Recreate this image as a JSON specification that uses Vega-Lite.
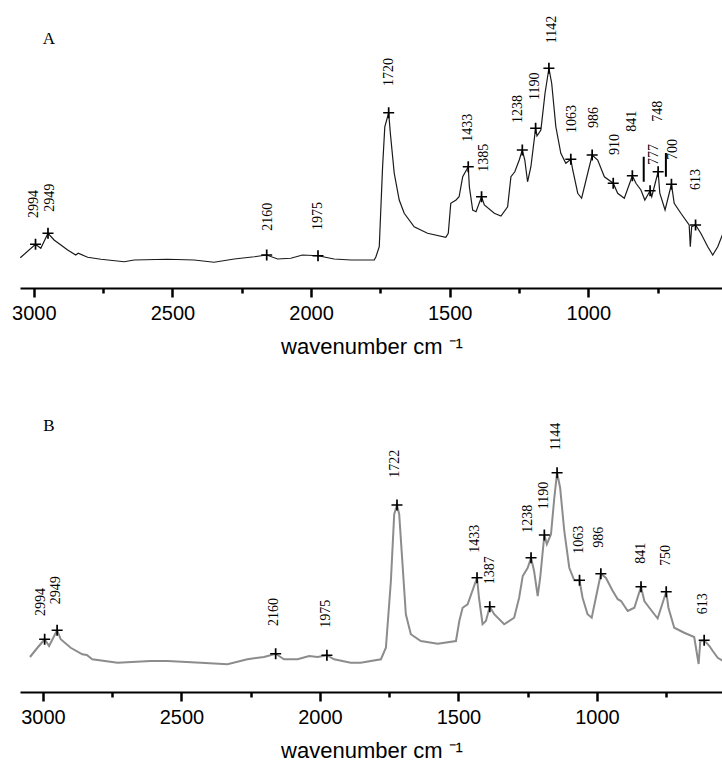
{
  "$schema": "https://vega.github.io/schema/vega-lite/v6.json",
  "padding": {"left": 11, "top": 0, "right": 0, "bottom": 0},
  "background": "white",
  "spacing": 44,
  "config": {
    "view": {"stroke": null},
    "axis": {
      "grid": false,
      "domainColor": "black",
      "domainWidth": 2,
      "tickColor": "black",
      "tickWidth": 2.5,
      "labelFont": "Liberation Sans",
      "labelFontSize": 20,
      "labelColor": "black",
      "labelPadding": 6,
      "titleFont": "Liberation Sans",
      "titleFontSize": 22,
      "titleFontWeight": "normal",
      "titleColor": "black",
      "titlePadding": 13
    }
  },
  "datasets": {
    "specA": [
      {"wn":3049,"v":0.121},{"wn":2994,"v":0.175},{"wn":2975,"v":0.159},{"wn":2949,"v":0.219},{"wn":2927,"v":0.192},{"wn":2878,"v":0.152},{"wn":2849,"v":0.132},{"wn":2840,"v":0.139},{"wn":2806,"v":0.123},{"wn":2758,"v":0.115},{"wn":2674,"v":0.105},{"wn":2638,"v":0.112},{"wn":2518,"v":0.115},{"wn":2422,"v":0.112},{"wn":2350,"v":0.103},{"wn":2277,"v":0.116},{"wn":2205,"v":0.125},{"wn":2160,"v":0.132},{"wn":2121,"v":0.116},{"wn":2073,"v":0.119},{"wn":2031,"v":0.132},{"wn":1975,"v":0.129},{"wn":1917,"v":0.116},{"wn":1856,"v":0.112},{"wn":1772,"v":0.112},{"wn":1766,"v":0.125},{"wn":1754,"v":0.165},{"wn":1742,"v":0.485},{"wn":1734,"v":0.645},{"wn":1720,"v":0.701},{"wn":1714,"v":0.619},{"wn":1700,"v":0.459},{"wn":1682,"v":0.352},{"wn":1664,"v":0.299},{"wn":1628,"v":0.245},{"wn":1580,"v":0.219},{"wn":1514,"v":0.203},{"wn":1505,"v":0.219},{"wn":1496,"v":0.339},{"wn":1477,"v":0.352},{"wn":1466,"v":0.365},{"wn":1453,"v":0.445},{"wn":1433,"v":0.485},{"wn":1429,"v":0.405},{"wn":1417,"v":0.312},{"wn":1405,"v":0.305},{"wn":1385,"v":0.365},{"wn":1375,"v":0.332},{"wn":1339,"v":0.299},{"wn":1315,"v":0.288},{"wn":1291,"v":0.325},{"wn":1279,"v":0.445},{"wn":1265,"v":0.465},{"wn":1249,"v":0.512},{"wn":1238,"v":0.552},{"wn":1229,"v":0.512},{"wn":1219,"v":0.425},{"wn":1207,"v":0.485},{"wn":1190,"v":0.639},{"wn":1185,"v":0.608},{"wn":1171,"v":0.632},{"wn":1156,"v":0.779},{"wn":1142,"v":0.879},{"wn":1132,"v":0.819},{"wn":1117,"v":0.645},{"wn":1099,"v":0.539},{"wn":1081,"v":0.499},{"wn":1063,"v":0.515},{"wn":1056,"v":0.472},{"wn":1038,"v":0.379},{"wn":1024,"v":0.359},{"wn":1008,"v":0.432},{"wn":986,"v":0.532},{"wn":966,"v":0.512},{"wn":942,"v":0.445},{"wn":910,"v":0.419},{"wn":894,"v":0.379},{"wn":870,"v":0.359},{"wn":841,"v":0.449},{"wn":828,"v":0.419},{"wn":810,"v":0.392},{"wn":796,"v":0.352},{"wn":777,"v":0.389},{"wn":771,"v":0.365},{"wn":748,"v":0.465},{"wn":742,"v":0.379},{"wn":723,"v":0.312},{"wn":700,"v":0.415},{"wn":690,"v":0.339},{"wn":666,"v":0.299},{"wn":636,"v":0.252},{"wn":632,"v":0.165},{"wn":627,"v":0.245},{"wn":613,"v":0.252},{"wn":594,"v":0.219},{"wn":569,"v":0.165},{"wn":551,"v":0.132},{"wn":533,"v":0.165},{"wn":514,"v":0.219}
    ],
    "peaksA": [
      {"wn":2994,"v":0.175,"label":"2994","lx":2999,"ly":0.28},
      {"wn":2949,"v":0.219,"label":"2949","lx":2941,"ly":0.305},
      {"wn":2160,"v":0.132,"label":"2160","lx":2157,"ly":0.229},
      {"wn":1975,"v":0.129,"label":"1975","lx":1974,"ly":0.232},
      {"wn":1720,"v":0.701,"label":"1720","lx":1718,"ly":0.808},
      {"wn":1433,"v":0.485,"label":"1433","lx":1433,"ly":0.585},
      {"wn":1385,"v":0.365,"label":"1385","lx":1376,"ly":0.465},
      {"wn":1238,"v":0.552,"label":"1238","lx":1254,"ly":0.66},
      {"wn":1190,"v":0.639,"label":"1190","lx":1191,"ly":0.752},
      {"wn":1142,"v":0.879,"label":"1142","lx":1132,"ly":0.979},
      {"wn":1063,"v":0.515,"label":"1063","lx":1060,"ly":0.62},
      {"wn":986,"v":0.532,"label":"986","lx":980,"ly":0.64},
      {"wn":910,"v":0.419,"label":"910","lx":904,"ly":0.532},
      {"wn":841,"v":0.449,"label":"841","lx":844,"ly":0.625},
      {"wn":777,"v":0.389,"label":"777","lx":764,"ly":0.492},
      {"wn":748,"v":0.465,"label":"748","lx":750,"ly":0.665},
      {"wn":700,"v":0.415,"label":"700","lx":696,"ly":0.512},
      {"wn":613,"v":0.252,"label":"613","lx":612,"ly":0.392}
    ],
    "barsA": [
      {"wn":800,"v1":0.425,"v2":0.525},
      {"wn":720,"v1":0.445,"v2":0.54}
    ],
    "specB": [
      {"wn":3047,"v":0.14},{"wn":3020,"v":0.177},{"wn":2994,"v":0.211},{"wn":2978,"v":0.184},{"wn":2949,"v":0.247},{"wn":2936,"v":0.211},{"wn":2900,"v":0.177},{"wn":2858,"v":0.151},{"wn":2842,"v":0.148},{"wn":2822,"v":0.131},{"wn":2731,"v":0.117},{"wn":2611,"v":0.124},{"wn":2551,"v":0.124},{"wn":2430,"v":0.117},{"wn":2334,"v":0.111},{"wn":2262,"v":0.131},{"wn":2202,"v":0.14},{"wn":2160,"v":0.153},{"wn":2130,"v":0.131},{"wn":2081,"v":0.131},{"wn":2039,"v":0.144},{"wn":2009,"v":0.14},{"wn":1975,"v":0.147},{"wn":1949,"v":0.131},{"wn":1889,"v":0.117},{"wn":1853,"v":0.117},{"wn":1780,"v":0.131},{"wn":1762,"v":0.177},{"wn":1744,"v":0.444},{"wn":1732,"v":0.711},{"wn":1722,"v":0.748},{"wn":1714,"v":0.711},{"wn":1702,"v":0.511},{"wn":1690,"v":0.311},{"wn":1672,"v":0.231},{"wn":1636,"v":0.204},{"wn":1575,"v":0.193},{"wn":1509,"v":0.204},{"wn":1497,"v":0.284},{"wn":1485,"v":0.337},{"wn":1467,"v":0.351},{"wn":1433,"v":0.457},{"wn":1426,"v":0.377},{"wn":1413,"v":0.271},{"wn":1401,"v":0.284},{"wn":1387,"v":0.341},{"wn":1371,"v":0.311},{"wn":1335,"v":0.271},{"wn":1299,"v":0.297},{"wn":1281,"v":0.377},{"wn":1268,"v":0.464},{"wn":1250,"v":0.497},{"wn":1238,"v":0.537},{"wn":1227,"v":0.484},{"wn":1214,"v":0.384},{"wn":1205,"v":0.457},{"wn":1190,"v":0.628},{"wn":1181,"v":0.591},{"wn":1166,"v":0.631},{"wn":1154,"v":0.777},{"wn":1144,"v":0.877},{"wn":1133,"v":0.817},{"wn":1118,"v":0.644},{"wn":1100,"v":0.497},{"wn":1082,"v":0.447},{"wn":1063,"v":0.447},{"wn":1052,"v":0.377},{"wn":1034,"v":0.311},{"wn":1019,"v":0.297},{"wn":1004,"v":0.377},{"wn":986,"v":0.473},{"wn":968,"v":0.457},{"wn":943,"v":0.404},{"wn":925,"v":0.371},{"wn":913,"v":0.364},{"wn":889,"v":0.324},{"wn":865,"v":0.337},{"wn":841,"v":0.421},{"wn":829,"v":0.364},{"wn":811,"v":0.337},{"wn":781,"v":0.294},{"wn":750,"v":0.401},{"wn":742,"v":0.337},{"wn":721,"v":0.257},{"wn":685,"v":0.237},{"wn":649,"v":0.22},{"wn":633,"v":0.112},{"wn":627,"v":0.204},{"wn":613,"v":0.207},{"wn":594,"v":0.184},{"wn":582,"v":0.164},{"wn":564,"v":0.137},{"wn":545,"v":0.124}
    ],
    "peaksB": [
      {"wn":2994,"v":0.211,"label":"2994","lx":3008,"ly":0.304},
      {"wn":2949,"v":0.247,"label":"2949","lx":2954,"ly":0.351},
      {"wn":2160,"v":0.153,"label":"2160","lx":2166,"ly":0.264},
      {"wn":1975,"v":0.147,"label":"1975","lx":1979,"ly":0.257},
      {"wn":1722,"v":0.748,"label":"1722","lx":1729,"ly":0.857},
      {"wn":1433,"v":0.457,"label":"1433","lx":1440,"ly":0.557},
      {"wn":1387,"v":0.341,"label":"1387","lx":1385,"ly":0.431},
      {"wn":1238,"v":0.537,"label":"1238","lx":1250,"ly":0.637},
      {"wn":1190,"v":0.628,"label":"1190","lx":1193,"ly":0.731},
      {"wn":1144,"v":0.877,"label":"1144","lx":1148,"ly":0.967},
      {"wn":1063,"v":0.447,"label":"1063","lx":1064,"ly":0.553},
      {"wn":986,"v":0.473,"label":"986","lx":992,"ly":0.577},
      {"wn":841,"v":0.421,"label":"841","lx":841,"ly":0.513},
      {"wn":750,"v":0.401,"label":"750","lx":751,"ly":0.504},
      {"wn":613,"v":0.207,"label":"613","lx":618,"ly":0.311}
    ]
  },
  "vconcat": [
    {
      "width": 703,
      "height": 288,
      "encoding": {
        "x": {
          "field": "wn", "type": "quantitative",
          "scale": {"domain": [3050, 514], "nice": false, "zero": false},
          "axis": {
            "values": [3000, 2750, 2500, 2250, 2000, 1750, 1500, 1250, 1000, 750],
            "labelExpr": "datum.value % 500 === 0 ? format(datum.value, 'd') : ''",
            "tickSize": {"condition": {"test": "datum.value % 500 === 0", "value": 9}, "value": 5},
            "title": "wavenumber cm ⁻¹"
          }
        }
      },
      "layer": [
        {
          "data": {"name": "specA"},
          "mark": {"type": "line", "color": "#1a1a1a", "strokeWidth": 1.2},
          "encoding": {
            "y": {"field": "v", "type": "quantitative", "scale": {"domain": [0, 1.152], "nice": false, "zero": false}, "axis": null}
          }
        },
        {
          "data": {"name": "barsA"},
          "mark": {"type": "rule", "color": "black", "strokeWidth": 2},
          "encoding": {
            "y": {"field": "v1", "type": "quantitative"},
            "y2": {"field": "v2"}
          }
        },
        {
          "data": {"name": "peaksA"},
          "mark": {"type": "point", "shape": "M-1,0L1,0M0,-1L0,1", "size": 121, "filled": false, "color": "black", "strokeWidth": 1.7, "opacity": 1},
          "encoding": {
            "y": {"field": "v", "type": "quantitative"}
          }
        },
        {
          "data": {"name": "peaksA"},
          "mark": {"type": "text", "angle": 270, "align": "left", "baseline": "middle", "font": "Liberation Serif", "fontSize": 14, "color": "black"},
          "encoding": {
            "x": {"field": "lx", "type": "quantitative"},
            "y": {"field": "ly", "type": "quantitative"},
            "text": {"field": "label"}
          }
        },
        {
          "data": {"values": [{"wn": 2946, "v": 0.996, "t": "A"}]},
          "mark": {"type": "text", "font": "Liberation Serif", "fontSize": 17, "color": "black", "baseline": "middle", "align": "center"},
          "encoding": {
            "y": {"field": "v", "type": "quantitative"},
            "text": {"field": "t"}
          }
        }
      ]
    },
    {
      "width": 703,
      "height": 291,
      "encoding": {
        "x": {
          "field": "wn", "type": "quantitative",
          "scale": {"domain": [3083, 545], "nice": false, "zero": false},
          "axis": {
            "values": [3000, 2750, 2500, 2250, 2000, 1750, 1500, 1250, 1000, 750],
            "labelExpr": "datum.value % 500 === 0 ? format(datum.value, 'd') : ''",
            "tickSize": {"condition": {"test": "datum.value % 500 === 0", "value": 9}, "value": 5},
            "title": "wavenumber cm ⁻¹"
          }
        }
      },
      "layer": [
        {
          "data": {"name": "specB"},
          "mark": {"type": "line", "color": "#8c8c8c", "strokeWidth": 2},
          "encoding": {
            "y": {"field": "v", "type": "quantitative", "scale": {"domain": [0, 1.164], "nice": false, "zero": false}, "axis": null}
          }
        },
        {
          "data": {"name": "peaksB"},
          "mark": {"type": "point", "shape": "M-1,0L1,0M0,-1L0,1", "size": 121, "filled": false, "color": "black", "strokeWidth": 1.7, "opacity": 1},
          "encoding": {
            "y": {"field": "v", "type": "quantitative"}
          }
        },
        {
          "data": {"name": "peaksB"},
          "mark": {"type": "text", "angle": 270, "align": "left", "baseline": "middle", "font": "Liberation Serif", "fontSize": 14, "color": "black"},
          "encoding": {
            "x": {"field": "lx", "type": "quantitative"},
            "y": {"field": "ly", "type": "quantitative"},
            "text": {"field": "label"}
          }
        },
        {
          "data": {"values": [{"wn": 2979, "v": 1.064, "t": "B"}]},
          "mark": {"type": "text", "font": "Liberation Serif", "fontSize": 17, "color": "black", "baseline": "middle", "align": "center"},
          "encoding": {
            "y": {"field": "v", "type": "quantitative"},
            "text": {"field": "t"}
          }
        }
      ]
    }
  ]
}
